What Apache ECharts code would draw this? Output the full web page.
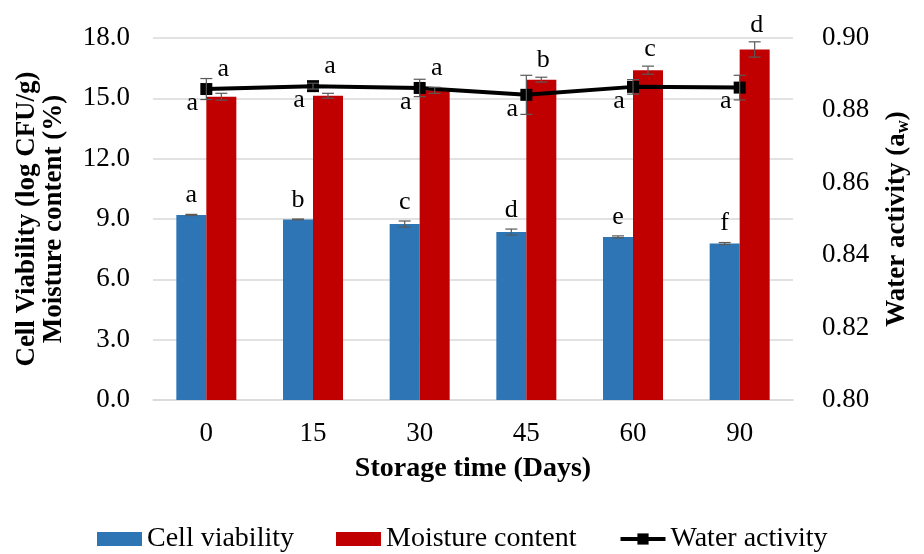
<!DOCTYPE html>
<html>
<head>
<meta charset="utf-8">
<script src="https://cdn.jsdelivr.net/npm/echarts@6/dist/echarts.min.js"></script>
<style>html,body{margin:0;padding:0;background:#fff}#c{width:924px;height:554px}</style>
</head>
<body>
<div id="c"></div>
<script>
const categories = ['0', '15', '30', '45', '60', '90'];
const cellViability = [9.20, 8.98, 8.75, 8.35, 8.11, 7.78];
const cellViabilityErr = [0.03, 0.02, 0.15, 0.15, 0.05, 0.05];
const cellViabilityLetters = ['a', 'b', 'c', 'd', 'e', 'f'];
const moisture = [15.08, 15.13, 15.40, 15.93, 16.40, 17.43];
const moistureErr = [0.17, 0.12, 0.15, 0.12, 0.20, 0.38];
const moistureLetters = ['a', 'a', 'a', 'b', 'c', 'd'];
const waterActivity = [0.8859, 0.8867, 0.8862, 0.8843, 0.8865, 0.8863];
const waterActivityErr = [0.0029, 0.0008, 0.0024, 0.0054, 0.0020, 0.0034];
const waterActivityLetters = ['a', 'a', 'a', 'a', 'a', 'a'];
const leftTicks = { min: 0, max: 18, interval: 3 };
const rightTicks = { min: 0.80, max: 0.90, interval: 0.02 };

const FONT = 'Liberation Serif';
const BAR_W = 30;
const ERR_COLOR = '#595959';
const chart = echarts.init(document.getElementById('c'));

function errShape(x, yHi, yLo, cap) {
  const st = { stroke: ERR_COLOR, lineWidth: 1.2 };
  return [
    { type: 'line', shape: { x1: x, y1: yHi, x2: x, y2: yLo }, style: st },
    { type: 'line', shape: { x1: x - cap, y1: yHi, x2: x + cap, y2: yHi }, style: st },
    { type: 'line', shape: { x1: x - cap, y1: yLo, x2: x + cap, y2: yLo }, style: st }
  ];
}
function letterShape(x, y, txt) {
  return { type: 'text', style: { text: txt, x: x, y: y, textAlign: 'center', textVerticalAlign: 'middle', font: '26px "' + FONT + '"', fill: '#000' } };
}

const barErrData = (vals, errs) => vals.map((v, i) => [i, v, errs[i]]);

chart.setOption({
  animation: false,
  grid: { left: 153, right: 131, top: 38, bottom: 154, outerBoundsMode: 'none', containLabel: false },
  legend: {
    top: 520, left: 92, itemWidth: 45, itemHeight: 14, itemGap: 42,
    textStyle: { fontFamily: FONT, fontSize: 28, color: '#000' },
    data: [
      { name: 'Cell viability', icon: 'rect' },
      { name: 'Moisture content', icon: 'rect' },
      { name: 'Water activity', lineStyle: { width: 4, color: '#000' } }
    ]
  },
  xAxis: {
    type: 'category', data: categories,
    name: 'Storage time (Days)', nameLocation: 'middle', nameGap: 55,
    nameTextStyle: { fontFamily: FONT, fontSize: 28, fontWeight: 'bold', color: '#000' },
    axisLine: { lineStyle: { color: '#d9d9d9', width: 1.5 } },
    axisTick: { show: false },
    axisLabel: { fontFamily: FONT, fontSize: 27, color: '#000', margin: 20 }
  },
  yAxis: [
    {
      type: 'value', min: leftTicks.min, max: leftTicks.max, interval: leftTicks.interval,
      name: 'Cell Viability (log CFU/g)\nMoisture content (%)', nameLocation: 'middle', nameGap: 85,
      nameTextStyle: { fontFamily: FONT, fontSize: 27, fontWeight: 'bold', color: '#000', lineHeight: 27 },
      axisLine: { show: false }, axisTick: { show: false },
      axisLabel: { fontFamily: FONT, fontSize: 27, color: '#000', margin: 23, formatter: v => v.toFixed(1) },
      splitLine: { lineStyle: { color: '#d9d9d9', width: 1.5 } }
    },
    {
      type: 'value', min: rightTicks.min, max: rightTicks.max, interval: rightTicks.interval,
      name: '{n|Water activity (a}{s|w}{n|)}', nameLocation: 'middle', nameGap: 89, nameRotate: 90,
      nameTextStyle: {
        rich: {
          n: { fontFamily: FONT, fontSize: 27, fontWeight: 'bold', color: '#000' },
          s: { fontFamily: FONT, fontSize: 18, fontWeight: 'bold', color: '#000', padding: [12, 0, 0, 0] }
        }
      },
      axisLine: { show: false }, axisTick: { show: false },
      axisLabel: { fontFamily: FONT, fontSize: 27, color: '#000', margin: 29, formatter: v => v.toFixed(2) },
      splitLine: { show: false }
    }
  ],
  series: [
    {
      name: 'Cell viability', type: 'bar', data: cellViability, barWidth: BAR_W, barGap: '0%',
      itemStyle: { color: '#2e75b6' }
    },
    {
      name: 'Moisture content', type: 'bar', data: moisture, barWidth: BAR_W, barGap: '0%',
      itemStyle: { color: '#c00000' }
    },
    {
      name: 'Water activity', type: 'line', yAxisIndex: 1, data: waterActivity,
      symbol: 'rect', symbolSize: 12, lineStyle: { color: '#000', width: 4 },
      itemStyle: { color: '#000' }, z: 5
    },
    {
      type: 'custom', name: 'cvErr', data: barErrData(cellViability, cellViabilityErr), z: 6,
      renderItem: (params, api) => {
        const i = api.value(0), v = api.value(1), e = api.value(2);
        const hi = api.coord([i, v + e]), lo = api.coord([i, v - e]);
        const x = hi[0] - BAR_W / 2;
        return { type: 'group', children: errShape(x, hi[1], lo[1], 6).concat([letterShape(x, hi[1] - 19, cellViabilityLetters[i])]) };
      }
    },
    {
      type: 'custom', name: 'mcErr', data: barErrData(moisture, moistureErr), z: 6,
      renderItem: (params, api) => {
        const i = api.value(0), v = api.value(1), e = api.value(2);
        const hi = api.coord([i, v + e]), lo = api.coord([i, v - e]);
        const x = hi[0] + BAR_W / 2;
        return { type: 'group', children: errShape(x, hi[1], lo[1], 6) };
      }
    },
    {
      type: 'custom', name: 'waErr', yAxisIndex: 1, data: barErrData(waterActivity, waterActivityErr), z: 7,
      renderItem: (params, api) => {
        const i = api.value(0), v = api.value(1), e = api.value(2);
        const hi = api.coord([i, v + e]), lo = api.coord([i, v - e]), mid = api.coord([i, v]);
        return { type: 'group', children: errShape(mid[0], hi[1], lo[1], 6).concat([letterShape(mid[0] - 14, mid[1] + 14, waterActivityLetters[i])]) };
      }
    },
    {
      type: 'custom', name: 'mcLetters', data: moisture.map((v, i) => [i, v, moistureErr[i], waterActivity[i]]), z: 8,
      renderItem: (params, api) => {
        const i = api.value(0), v = api.value(1), e = api.value(2);
        const hi = api.coord([i, v + e]);
        const waPx = chart.convertToPixel({ yAxisIndex: 1 }, api.value(3));
        const y = Math.min(hi[1] - 17, waPx - 20);
        return letterShape(hi[0] + BAR_W / 2 + 2, y, moistureLetters[i]);
      }
    }
  ]
});
</script>
</body>
</html>
